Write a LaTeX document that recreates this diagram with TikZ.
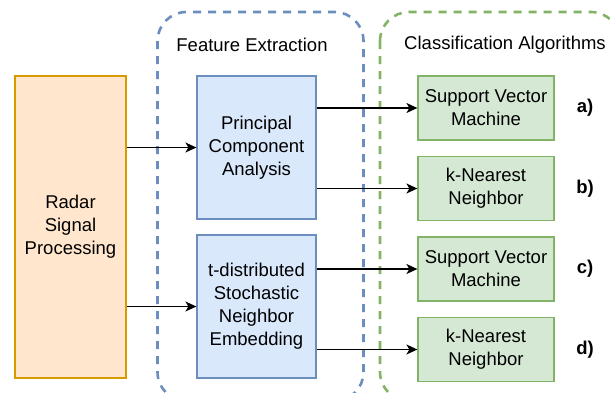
\documentclass[tikz,border=0pt]{standalone}
\usepackage{fontspec}
\setmainfont{Liberation Sans}
\usetikzlibrary{arrows.meta}

\definecolor{orfill}{HTML}{FFE6CC}
\definecolor{ordraw}{HTML}{D79B00}
\definecolor{blfill}{HTML}{DAE8FC}
\definecolor{bldraw}{HTML}{6C8EBF}
\definecolor{grfill}{HTML}{D5E8D4}
\definecolor{grdraw}{HTML}{82B366}

\begin{document}
\begin{tikzpicture}[x=1pt, y=-1pt,
  every node/.style={font=\fontsize{18.5}{23}\selectfont, align=center, inner sep=0pt},
  srcblock/.style={rectangle, draw=ordraw, fill=orfill, line width=1.2pt, minimum width=111pt, minimum height=302pt},
  featblock/.style={rectangle, draw=bldraw, fill=blfill, line width=1.2pt, minimum width=119pt, minimum height=143pt},
  clsblock/.style={rectangle, draw=grdraw, fill=grfill, line width=1.2pt, minimum width=136pt, minimum height=64pt},
  grpframe/.style={line width=2.6pt, dash pattern=on 8pt off 7pt, rounded corners=29pt},
  flow/.style={line width=1.4pt, -{Stealth[length=11pt, width=10pt, inset=3pt]}}]

\useasboundingbox (0,0) rectangle (610,392);

\draw [grpframe, bldraw] (157.5,12) rectangle (363.5,401);
\draw (252,45) node (fetitle) {Feature Extraction};

\draw [grpframe, grdraw] (380,12) rectangle (620,401);
\draw (505,45) node (cltitle) {Classification Algorithms};

\draw (70.5,227) node (radar) [srcblock] {Radar\\Signal\\Processing};

\draw (256.5,147.5) node (pca) [featblock] {Principal\\Component\\Analysis};
\draw (256.5,306.5) node (tsne) [featblock] {t-distributed\\Stochastic\\Neighbor\\Embedding};

\draw (486,108) node (svma) [clsblock] {Support Vector\\Machine};
\draw (svma.south) ++(0,15.3) node (knnb) [below, clsblock] {k-Nearest\\Neighbor};
\draw (knnb.south) ++(0,15.3) node (svmc) [below, clsblock] {Support Vector\\Machine};
\draw (svmc.south) ++(0,15.3) node (knnd) [below, clsblock] {k-Nearest\\Neighbor};

\draw (585,108) node (laba) {\textbf{a)}};
\draw (laba |- knnb) node (labb) {\textbf{b)}};
\draw (laba |- svmc) node (labc) {\textbf{c)}};
\draw (laba |- knnd) node (labd) {\textbf{d)}};

\draw [flow] (radar.east |- pca) -- (pca.west);
\draw [flow] (radar.east |- tsne) -- (tsne.west);

\draw [flow] (pca.east |- svma) -- (svma.west);
\draw [flow] (pca.east |- knnb) -- (knnb.west);
\draw [flow] (tsne.east |- svmc) -- (svmc.west);
\draw [flow] (tsne.east |- knnd) -- (knnd.west);

\end{tikzpicture}
\end{document}
